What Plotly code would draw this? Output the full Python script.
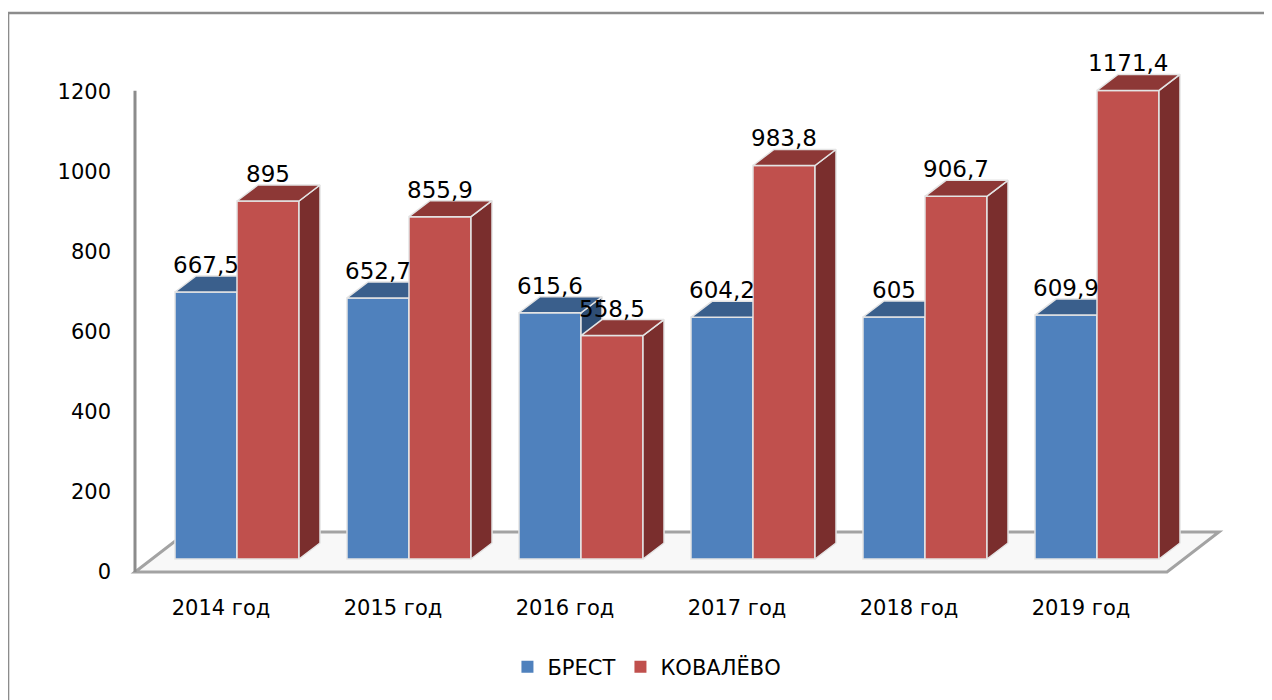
import plotly.graph_objects as go

# ---------------- data ----------------
categories = ["2014 год", "2015 год", "2016 год", "2017 год", "2018 год", "2019 год"]
brest = [667.5, 652.7, 615.6, 604.2, 605, 609.9]
kovalevo = [895, 855.9, 558.5, 983.8, 906.7, 1171.4]
brest_labels = ["667,5", "652,7", "615,6", "604,2", "605", "609,9"]
kovalevo_labels = ["895", "855,9", "558,5", "983,8", "906,7", "1171,4"]
y_ticks = [0, 200, 400, 600, 800, 1000, 1200]
series_names = ["БРЕСТ", "КОВАЛЁВО"]

# ---------------- styling / geometry ----------------
FONT = "DejaVu Sans"
BLUE_FRONT, BLUE_TOP, BLUE_SIDE = "#4F81BD", "#3A5F8C", "#2E4D74"
RED_FRONT, RED_TOP, RED_SIDE = "#C0504D", "#8D3836", "#7A2E2D"
EDGE = "#E4E4E4"

W = 0.3605         # bar width (category units)
OFF_B = -0.2674    # blue bar offset from category center
OFF_R = 0.0930     # red bar offset
DX = 0.1221        # 3D depth offset in x (category units)
DY = 40            # 3D depth offset in y (value units)

x_idx = list(range(len(categories)))


def faces(values, off):
    tx, ty, sx, sy = [], [], [], []
    for i, v in zip(x_idx, values):
        l, r = i + off, i + off + W
        tx += [l, r, r + DX, l + DX, l, None]
        ty += [v, v, v + DY, v + DY, v, None]
        sx += [r, r + DX, r + DX, r, r, None]
        sy += [0, DY, v + DY, v, 0, None]
    return tx, ty, sx, sy


fig = go.Figure()

# legend entries on main axis
fig.add_trace(go.Scatter(x=[None], y=[None], mode="markers", name=series_names[0],
                         marker=dict(symbol="square", size=12, color=BLUE_FRONT)))
fig.add_trace(go.Scatter(x=[None], y=[None], mode="markers", name=series_names[1],
                         marker=dict(symbol="square", size=12, color=RED_FRONT)))

for vals, off, cf, ct, cs, ax in [
    (brest, OFF_B, BLUE_FRONT, BLUE_TOP, BLUE_SIDE, "y2"),
    (kovalevo, OFF_R, RED_FRONT, RED_TOP, RED_SIDE, "y3"),
]:
    tx, ty, sx, sy = faces(vals, off)
    fig.add_trace(go.Bar(x=x_idx, y=vals, offset=off, width=W, yaxis=ax,
                         marker=dict(color=cf, line=dict(color=EDGE, width=1.5)),
                         showlegend=False, hoverinfo="skip"))
    fig.add_trace(go.Scatter(x=sx, y=sy, yaxis=ax, mode="lines", fill="toself",
                             fillcolor=cs, line=dict(color=EDGE, width=1.5),
                             showlegend=False, hoverinfo="skip"))
    fig.add_trace(go.Scatter(x=tx, y=ty, yaxis=ax, mode="lines", fill="toself",
                             fillcolor=ct, line=dict(color=EDGE, width=1.5),
                             showlegend=False, hoverinfo="skip"))

annotations = []
for i, v, t in zip(x_idx, brest, brest_labels):
    annotations.append(dict(x=i + OFF_B + W / 2, y=v, xref="x", yref="y2", text=t,
                            showarrow=False, yshift=27, font=dict(family=FONT, size=23, color="black")))
for i, v, t in zip(x_idx, kovalevo, kovalevo_labels):
    annotations.append(dict(x=i + OFF_R + W / 2, y=v, xref="x", yref="y3", text=t,
                            showarrow=False, yshift=27, font=dict(family=FONT, size=23, color="black")))

n = len(categories)
floor_dx = 0.302
floor_dy = 100
floor_path = (f"M {-0.5} 0 L {n - 0.5} 0 L {n - 0.5 + floor_dx} {floor_dy} "
              f"L {-0.5 + floor_dx} {floor_dy} Z")

shapes = [
    # outer border
    dict(type="rect", xref="paper", yref="paper", x0=-0.1004, y0=-0.4, x1=1.4, y1=1.0304,
         line=dict(color="#8C8C8C", width=2.5), fillcolor="rgba(0,0,0,0)", layer="below"),
    # floor
    dict(type="path", xref="x", yref="y", path=floor_path, fillcolor="#F8F8F8",
         line=dict(color="#A3A3A3", width=3), layer="below"),
    # vertical axis line
    dict(type="line", xref="x", yref="y", x0=-0.5, x1=-0.5, y0=0, y1=y_ticks[-1] + 3,
         line=dict(color="#8C8C8C", width=3), layer="below"),
]

fig.update_layout(
    width=1264, height=692,
    margin=dict(l=112, r=37, t=22, b=110),
    paper_bgcolor="white", plot_bgcolor="rgba(0,0,0,0)",
    barmode="overlay",
    font=dict(family=FONT, size=21, color="black"),
    xaxis=dict(range=[-0.5872, 5.8954], tickvals=x_idx, ticktext=categories,
               showgrid=False, zeroline=False, showline=False, ticks="",
               tickfont=dict(family=FONT, size=21, color="black"), ticklabelstandoff=3),
    yaxis=dict(range=[-45, 1355], tickvals=y_ticks, ticktext=[str(v) for v in y_ticks],
               showgrid=False, zeroline=False, showline=False, ticks="",
               tickfont=dict(family=FONT, size=21, color="black"), ticklabelstandoff=8),
    yaxis2=dict(range=[-77.5, 1322.5], overlaying="y", visible=False),
    yaxis3=dict(range=[-77.5, 1322.5], overlaying="y", visible=False),
    legend=dict(orientation="h", x=0.4726, xanchor="center", y=-0.1375, yanchor="middle",
                font=dict(family=FONT, size=21, color="black"), itemwidth=30,
                bgcolor="rgba(0,0,0,0)"),
    annotations=annotations,
    shapes=shapes,
    showlegend=True,
)

fig.write_html("out.html")
